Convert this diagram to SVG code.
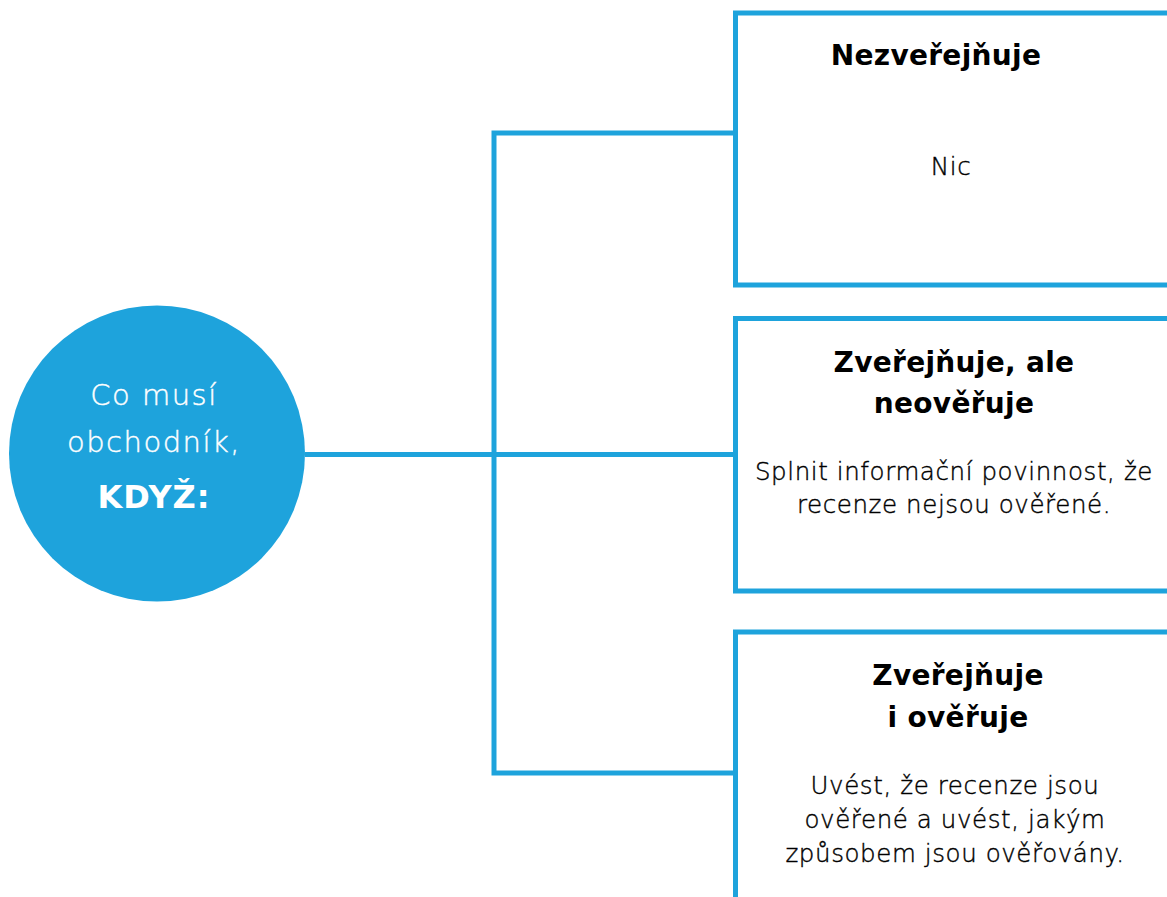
<svg xmlns="http://www.w3.org/2000/svg" width="1167" height="897" viewBox="0 0 1167 897">
<style>
.conn{fill:none;stroke:#1EA3DC;stroke-width:5;stroke-linejoin:miter}
.box{fill:#fff;stroke:#1EA3DC;stroke-width:5}
.t{font-family:"DejaVu Sans","Open Sans",sans-serif;font-size:28px;font-weight:700;letter-spacing:0.3px;fill:#000;text-anchor:middle}
.b{font-family:"DejaVu Sans","Open Sans",sans-serif;font-size:24.5px;font-weight:200;letter-spacing:0.6px;fill:#000;stroke:#000;stroke-width:0.4px;text-anchor:middle}
.c{font-family:"DejaVu Sans","Open Sans",sans-serif;font-size:29px;font-weight:200;letter-spacing:1.5px;fill:#fff;stroke:#fff;stroke-width:0.4px;text-anchor:middle}
.cb{font-family:"DejaVu Sans","Open Sans",sans-serif;font-size:32px;font-weight:700;letter-spacing:1px;fill:#fff;text-anchor:middle}
</style>
<rect width="1167" height="897" fill="#fff"/>
<g id="connectors">
<path class="conn" d="M735.5 133H494V773H735.5"/>
<path class="conn" d="M305 454.5H735.5"/>
</g>
<g id="root">
<circle cx="157" cy="453.5" r="148" fill="#1EA3DC"/>
<text class="c" x="154" y="405">Co musí</text>
<text class="c" x="154" y="452">obchodník,</text>
<text class="cb" x="154" y="508">KDYŽ:</text>
</g>
<g id="box1">
<rect class="box" x="735.5" y="13" width="450" height="272"/>
<text class="t" x="936" y="65">Nezveřejňuje</text>
<text class="b" x="951" y="175">Nic</text>
</g>
<g id="box2">
<rect class="box" x="735.5" y="318.5" width="450" height="272.5"/>
<text class="t" x="954" y="372">Zveřejňuje, ale</text>
<text class="t" x="954" y="413">neověřuje</text>
<text class="b" x="954" y="480">Splnit informační povinnost, že</text>
<text class="b" x="954" y="513">recenze nejsou ověřené.</text>
</g>
<g id="box3">
<rect class="box" x="735.5" y="632" width="450" height="300"/>
<text class="t" x="958" y="685">Zveřejňuje</text>
<text class="t" x="958" y="727">i ověřuje</text>
<text class="b" x="955" y="794">Uvést, že recenze jsou</text>
<text class="b" x="955" y="828">ověřené a uvést, jakým</text>
<text class="b" x="955" y="862">způsobem jsou ověřovány.</text>
</g>
</svg>
